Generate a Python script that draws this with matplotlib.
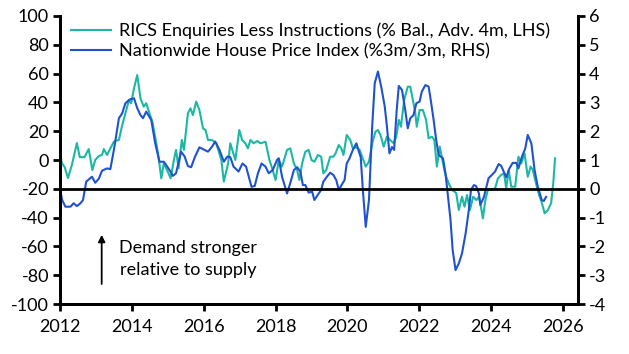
import numpy as np
import matplotlib
matplotlib.use("Agg")
import matplotlib.pyplot as plt

# RICS enquiries less instructions (% balance, advanced 4m) - LHS
rics_t = [2012.00, 2012.05, 2012.13, 2012.22, 2012.33, 2012.47, 2012.55, 2012.68, 2012.80, 2012.90,
          2012.98, 2013.08, 2013.17, 2013.22, 2013.31, 2013.40, 2013.50, 2013.64, 2013.73, 2013.82,
          2013.92, 2013.98, 2014.06, 2014.15, 2014.24, 2014.33, 2014.40, 2014.46, 2014.57, 2014.68,
          2014.74, 2014.82, 2014.89, 2014.98, 2015.08, 2015.17, 2015.23, 2015.30, 2015.39, 2015.45,
          2015.56, 2015.63, 2015.70, 2015.79, 2015.88, 2015.98, 2016.05, 2016.12, 2016.23, 2016.35,
          2016.49, 2016.56, 2016.68, 2016.74, 2016.88, 2016.99, 2017.07, 2017.16, 2017.23, 2017.30,
          2017.39, 2017.49, 2017.58, 2017.72, 2017.83, 2017.92, 2018.00, 2018.09, 2018.18, 2018.32,
          2018.41, 2018.51, 2018.60, 2018.66, 2018.74, 2018.83, 2018.92, 2019.00, 2019.08, 2019.18,
          2019.27, 2019.33, 2019.41, 2019.52, 2019.61, 2019.67, 2019.76, 2019.83, 2019.89, 2019.98,
          2020.08, 2020.15, 2020.25, 2020.34, 2020.51, 2020.60, 2020.69, 2020.78, 2020.85, 2020.92,
          2021.01, 2021.10, 2021.19, 2021.29, 2021.36, 2021.43, 2021.49, 2021.58, 2021.68, 2021.75,
          2021.84, 2021.89, 2021.93, 2022.01, 2022.10, 2022.19, 2022.26, 2022.35, 2022.42, 2022.49,
          2022.57, 2022.68, 2022.73, 2022.82, 2022.91, 2022.98, 2023.03, 2023.10, 2023.19, 2023.26,
          2023.33, 2023.41, 2023.50, 2023.59, 2023.66, 2023.70, 2023.77, 2023.84, 2023.91, 2024.05,
          2024.11, 2024.19, 2024.28, 2024.36, 2024.42, 2024.49, 2024.56, 2024.67, 2024.76, 2024.84,
          2024.93, 2025.02, 2025.10, 2025.16, 2025.25, 2025.35, 2025.39, 2025.49, 2025.58, 2025.67,
          2025.73, 2025.78]
rics_v = [5, -2, -5, -12.5, -3.5, 11.8, 2, 2, 7.6, -7,
          0, 2.8, 3.5, 7.6, 3.5, 8, 12.7, 14, 24, 32.4,
          41.7, 39.4, 49.8, 59, 42.8, 37, 39.4, 34.7, 26.6, 11.6,
          2.3, -12.7, -2.3, -7, -12.7, 0, 7, -5.8, 13.9, 7,
          32.4, 35.9, 31.2, 40.5, 34.7, 22, 20.8, 13.9, 13.9, 11.6,
          0, -15, -2.3, 11.6, 0, 20.8, 13.9, 11.6, 8.1, 13.9,
          11.6, 13.2, 11.6, 12.7, 0, -7, -13.9, 0, -4.6, 7,
          8.1, -2.3, -7, -13.9, -2.3, 5.8, 7, 0, -1.2, 3.5,
          2.3, -9.2, -7, 2.3, 2.3, 4.6, 10.4, 8.1, 3.5, 17.4,
          13.9, 8.1, 8.8, 7, -4.6, -1.2, 11.6, 19.7, 20.8, 17.4,
          9.3, 16.2, 13.9, 11.6, 16.2, 27.8, 23.1, 41.7, 50.9, 50.9,
          39.4, 32.4, 23.1, 34.7, 34.7, 27.8, 15, 16.2, 13.9, -4.6,
          9.3, -4.6, -10.4, -16.2, -20.8, -21.9, -23.1, -34.7, -25.5, -32.4,
          -24.3, -34.7, -25.5, -27.8, -25.5, -30, -40.5, -27.8, -20.8, -20.3,
          -19.7, -12.7, -10.4, -9.2, -19.7, -6.9, -18.5, -18.5, 2.3, -2.3,
          4.6, -11.6, -4.6, -6.9, -16.2, -25.5, -27.8, -37, -34.7, -30,
          -16, 1.2]

# Nationwide house price index (%3m/3m) - RHS
nw_t = [2012.00, 2012.06, 2012.15, 2012.29, 2012.38, 2012.47, 2012.57, 2012.64, 2012.73, 2012.89,
        2012.98, 2013.08, 2013.17, 2013.31, 2013.40, 2013.50, 2013.64, 2013.73, 2013.82, 2013.94,
        2014.06, 2014.15, 2014.24, 2014.31, 2014.40, 2014.54, 2014.65, 2014.77, 2014.89, 2015.05,
        2015.14, 2015.23, 2015.37, 2015.47, 2015.56, 2015.65, 2015.76, 2015.88, 2016.02, 2016.12,
        2016.23, 2016.32, 2016.44, 2016.56, 2016.66, 2016.74, 2016.83, 2016.97, 2017.08, 2017.18,
        2017.33, 2017.42, 2017.51, 2017.61, 2017.72, 2017.81, 2017.92, 2018.04, 2018.09, 2018.18,
        2018.32, 2018.41, 2018.51, 2018.60, 2018.69, 2018.76, 2018.83, 2018.92, 2019.02, 2019.08,
        2019.18, 2019.27, 2019.33, 2019.43, 2019.52, 2019.61, 2019.69, 2019.76, 2019.87, 2019.92,
        2019.98, 2020.06, 2020.15, 2020.25, 2020.32, 2020.37, 2020.43, 2020.51, 2020.60, 2020.69,
        2020.76, 2020.85, 2020.94, 2021.04, 2021.10, 2021.17, 2021.24, 2021.30, 2021.37, 2021.43,
        2021.52, 2021.61, 2021.68, 2021.75, 2021.84, 2021.92, 2022.01, 2022.07, 2022.17, 2022.26,
        2022.32, 2022.40, 2022.47, 2022.54, 2022.66, 2022.73, 2022.79, 2022.87, 2022.93, 2023.01,
        2023.10, 2023.19, 2023.29, 2023.38, 2023.44, 2023.52, 2023.58, 2023.66, 2023.70, 2023.80,
        2023.93, 2024.02, 2024.11, 2024.21, 2024.28, 2024.42, 2024.51, 2024.60, 2024.70, 2024.76,
        2024.86, 2024.95, 2025.02, 2025.12, 2025.21, 2025.30, 2025.41, 2025.47, 2025.53]
nw_v = [0.0, -0.39, -0.62, -0.62, -0.5, -0.6, -0.5, -0.39, 0.25, 0.42,
        0.21, 0.35, 0.63, 0.71, 0.68, 1.35, 2.45, 2.62, 2.97, 3.1,
        3.14, 2.8, 2.56, 2.45, 2.68, 2.39, 1.58, 0.94, 0.94, 0.65,
        0.45, 0.54, 1.29, 1.12, 0.79, 0.75, 1.12, 1.44, 1.35, 1.29,
        1.46, 1.64, 1.35, 0.94, 1.12, 1.1, 0.77, 0.6, 0.88, 0.77,
        0.07, 0.1, 0.54, 0.88, 0.77, 0.54, 0.65, 1.0, 1.06, 0.42,
        -0.16, 0.2, 0.65, 0.75, 0.6, 0.13, 0.13, -0.13, -0.1, -0.39,
        -0.2, -0.04, 0.25, 0.42, 0.56, 0.48, 0.3, -0.04, 0.2, 0.3,
        0.88, 1.06, 1.35, 1.58, 1.29, 1.1, -0.04, -1.32, -0.39, 2.16,
        3.66, 4.07, 3.55, 2.85, 2.16, 1.23, 1.45, 1.35, 2.7, 3.57,
        3.43, 2.73, 2.1, 2.45, 2.56, 2.97, 3.03, 3.37, 3.6, 3.55,
        3.08, 2.39, 1.7, 1.17, 1.06, 0.54, -0.16, -1.08, -2.13, -2.82,
        -2.59, -2.24, -1.55, -0.73, -0.04, 0.13, 0.1, -0.16, -0.56, -0.28,
        0.37, 0.48, 0.6, 0.86, 0.8, 0.4, 0.71, 0.9, 0.9, 0.71,
        1.12, 1.4, 1.87, 1.58, 0.65, 0.07, -0.39, -0.42, -0.28]

rics_label = "RICS Enquiries Less Instructions (% Bal., Adv. 4m, LHS)"
nw_label = "Nationwide House Price Index (%3m/3m, RHS)"
x_ticks = [2012, 2014, 2016, 2018, 2020, 2022, 2024, 2026]
teal = "#1cb8a3"
blue = "#2052d0"

plt.rcParams["font.family"] = ["Lato", "DejaVu Sans"]
plt.rcParams["font.size"] = 13
plt.rcParams["axes.unicode_minus"] = False

fig = plt.figure(figsize=(6.29, 3.54), dpi=100)
ax = fig.add_axes([0.0954, 0.141, 0.8236, 0.814])
ax2 = ax.twinx()

# lines
l1, = ax.plot(rics_t, rics_v, color=teal, linewidth=1.5)
l2, = ax2.plot(nw_t, nw_v, color=blue, linewidth=1.5)
ax2.axhline(0, color="black", linewidth=2)

# axes ranges
ax.set_xlim(2012, 2026.42)
ax.set_ylim(-100, 100)
ax2.set_ylim(-4, 6)
ax.set_xticks(x_ticks)
ax.set_yticks(np.arange(-100, 101, 20))
ax2.set_yticks(np.arange(-4, 7, 1))

# spines and ticks
for a in (ax, ax2):
    a.spines["top"].set_visible(False)
    for s in ("left", "right", "bottom"):
        a.spines[s].set_linewidth(2)
    a.tick_params(direction="out", length=5, width=2, labelsize=13, pad=3)
ax.tick_params(axis="x", pad=6)

# annotation
ax.annotate("", xy=(2013.16, -50), xytext=(2013.16, -88),
            arrowprops=dict(arrowstyle="-|>", color="black", lw=1.3, mutation_scale=10))
ax.text(2013.65, -69, "Demand stronger\nrelative to supply", ha="left", va="center",
        multialignment="center", fontsize=13, linespacing=1.45)

# legend
ax2.legend([l1, l2], [rics_label, nw_label], loc="upper left",
           bbox_to_anchor=(0.0, 1.015), frameon=False, handlelength=2.2,
           handletextpad=0.45, labelspacing=0.25, borderaxespad=0.2, fontsize=13)

fig.savefig("out.png", dpi=100)
